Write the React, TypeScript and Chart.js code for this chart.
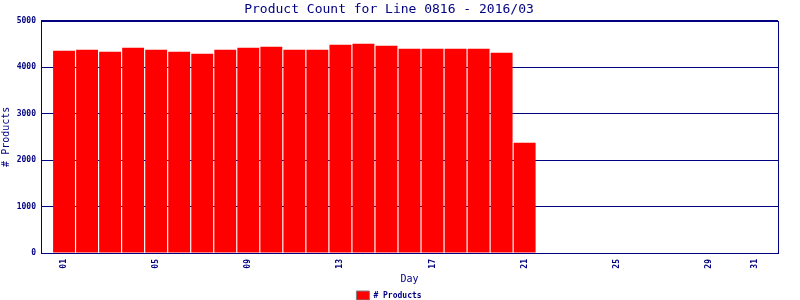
import React, { useEffect, useRef } from "react";
import { Chart, registerables } from "chart.js";

Chart.register(...registerables);

const days = [1, 2, 3, 4, 5, 6, 7, 8, 9, 10, 11, 12, 13, 14, 15, 16, 17, 18, 19, 20, 21];
const products = [4353, 4375, 4332, 4418, 4375, 4332, 4289, 4375, 4418, 4440, 4375, 4375, 4483, 4504, 4461, 4397, 4397, 4397, 4397, 4310, 2370];
const dayTicks = [1, 5, 9, 13, 17, 21, 25, 29, 31];
const yTicks = [0, 1000, 2000, 3000, 4000, 5000];

const NAVY = "#000080";
const MONO = "'DejaVu Sans Mono', monospace";

const boxPlugin = {
  id: "box",
  afterDatasetsDraw(chart: any) {
    const { ctx, chartArea: a } = chart;
    ctx.save();
    ctx.strokeStyle = NAVY;
    ctx.lineWidth = 1;
    ctx.strokeRect(Math.round(a.left) + 0.5, Math.round(a.top) + 0.5, Math.round(a.right - a.left), Math.round(a.bottom - a.top));
    ctx.restore();
  },
};

export default function App() {
  const ref = useRef<HTMLCanvasElement | null>(null);
  useEffect(() => {
    document.body.style.margin = "0";
    const chart = new Chart(ref.current!, {
      type: "bar",
      data: {
        datasets: [
          {
            label: "# Products",
            data: days.map((d, i) => ({ x: d, y: products[i] })),
            backgroundColor: "#ff0000",
            borderWidth: 0,
            barPercentage: 0.95,
            categoryPercentage: 1,
          },
        ],
      },
      options: {
        animation: false,
        responsive: true,
        maintainAspectRatio: false,
        layout: { padding: { left: 0, right: 22, top: 0, bottom: -10 } },
        plugins: {
          title: {
            display: true,
            text: "Product Count for Line 0816 - 2016/03",
            color: NAVY,
            font: { family: MONO, size: 13, weight: "normal" },
            padding: { top: 2, bottom: 3 },
          },
          legend: {
            position: "bottom",
            labels: {
              boxWidth: 13,
              boxHeight: 9,
              padding: 6,
              color: NAVY,
              font: { family: MONO, size: 8, weight: "bold" },
              generateLabels: () => [
                {
                  text: "# Products",
                  fillStyle: "#ff0000",
                  strokeStyle: "#808080",
                  lineWidth: 1,
                  fontColor: NAVY,
                  datasetIndex: 0,
                } as any,
              ],
            },
          },
          tooltip: { enabled: false },
        },
        scales: {
          x: {
            type: "linear",
            min: 0,
            max: 32,
            offset: false,
            afterBuildTicks: (scale: any) => {
              scale.ticks = dayTicks.map((v) => ({ value: v }));
            },
            afterFit: (scale: any) => {
              scale.height = 32;
            },
            grid: { display: false, drawTicks: false },
            border: { color: NAVY, width: 1 },
            ticks: {
              minRotation: 90,
              maxRotation: 90,
              padding: 6,
              color: NAVY,
              font: { family: MONO, size: 8, weight: "bold" },
              callback: (v: any) => String(v).padStart(2, "0"),
            },
            title: {
              display: true,
              text: "Day",
              color: NAVY,
              font: { family: MONO, size: 10 },
              padding: { top: 4, bottom: 0 },
            },
          },
          y: {
            min: 0,
            max: 5000,
            afterBuildTicks: (scale: any) => {
              scale.ticks = yTicks.map((v) => ({ value: v }));
            },
            afterFit: (scale: any) => {
              scale.width = 41;
            },
            grid: { color: NAVY, drawTicks: false, lineWidth: 1 },
            border: { color: NAVY, width: 1 },
            ticks: {
              padding: 5,
              color: NAVY,
              font: { family: MONO, size: 8, weight: "bold" },
              callback: (v: any) => String(v),
            },
            title: {
              display: true,
              text: "# Products",
              color: NAVY,
              font: { family: MONO, size: 10 },
              padding: { top: 0, bottom: 2 },
            },
          },
        },
      },
      plugins: [boxPlugin],
    });
    return () => chart.destroy();
  }, []);
  return (
    <div style={{ width: 800, height: 300, position: "relative" }}>
      <canvas ref={ref} />
    </div>
  );
}
